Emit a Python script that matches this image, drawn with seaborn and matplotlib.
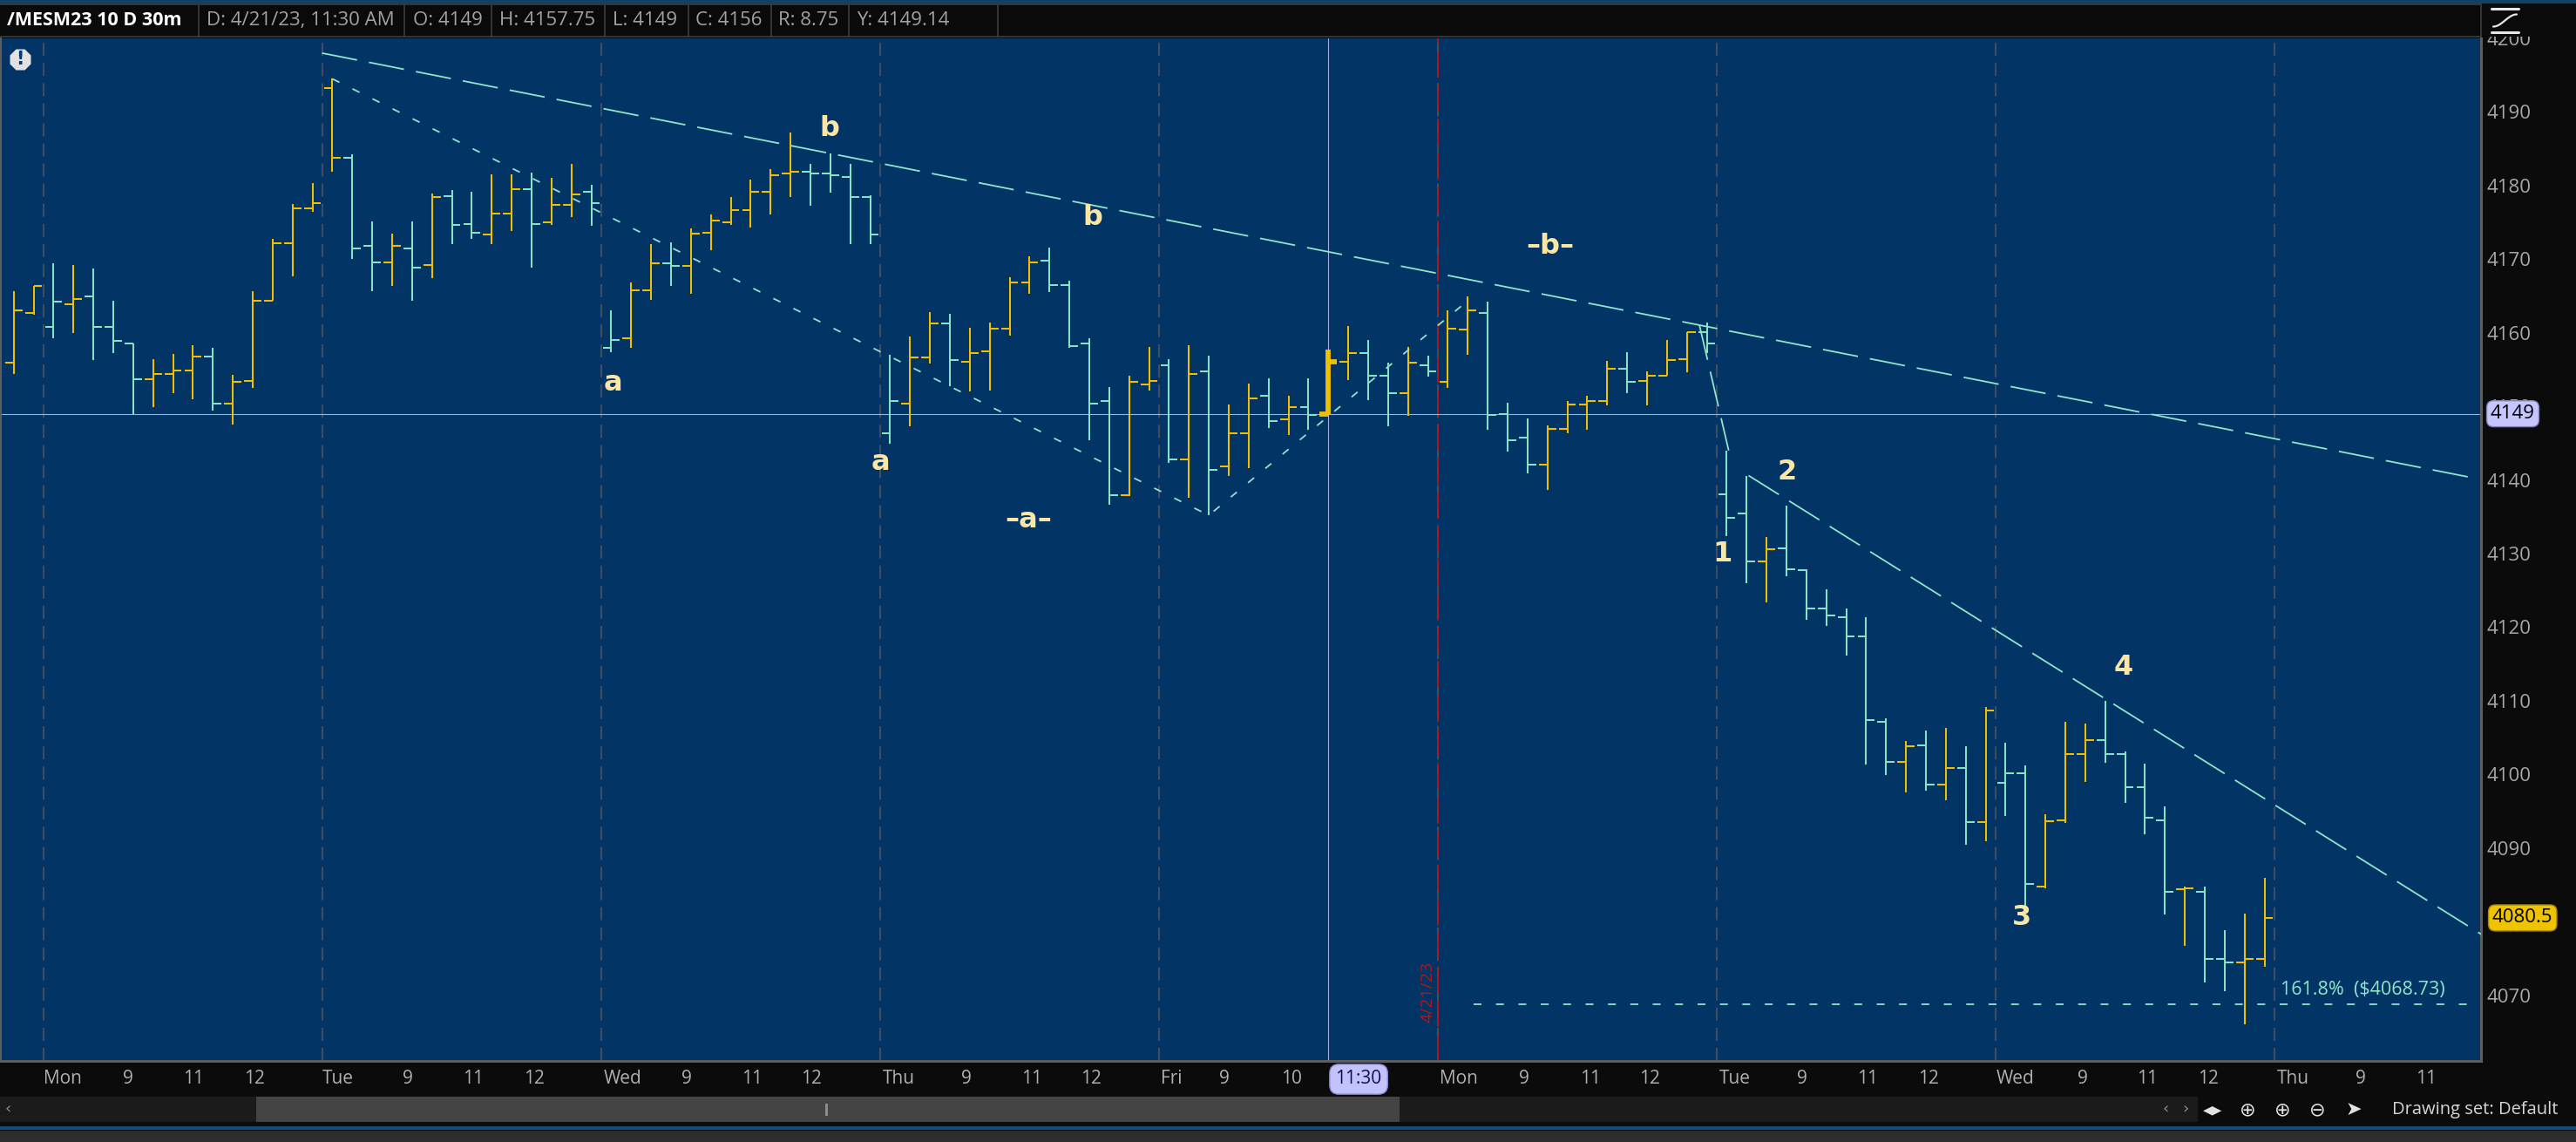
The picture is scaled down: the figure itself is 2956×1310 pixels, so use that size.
import numpy as np
import pandas as pd
import matplotlib
matplotlib.use("Agg")
import matplotlib.pyplot as plt
import matplotlib.transforms as mtransforms
from matplotlib.lines import Line2D
from matplotlib.patches import Rectangle
import seaborn as sns

# ---------------- data (30m bars, /MESM23) ----------------
opens = [4155.9, 4162.7, 4160.8, 4163.9, 4164.9, 4160.8, 4158.5, 4153.7, 4154.4, 4154.9,
         4156.8, 4150.4, 4153.5, 4164.4, 4172.2, 4176.9, 4193.3, 4183.8, 4171.8, 4169.6,
         4171.5, 4169.2, 4178.6, 4174.8, 4173.4, 4176.2, 4179.5, 4175.0, 4177.4, 4179.1,
         4158.0, 4159.2, 4165.8, 4169.4, 4169.1, 4173.6, 4175.0, 4176.7, 4179.1, 4181.7,
         4181.9, 4181.7, 4181.2, 4178.4, 4146.4, 4150.4, 4156.6, 4161.3, 4156.1, 4157.5,
         4160.6, 4166.8, 4169.8, 4166.5, 4158.5, 4150.7, 4137.9, 4153.0, 4155.6, 4142.8,
         4154.7, 4141.9, 4146.4, 4151.4, 4148.3, 4149.9, 4149.0, 4156.1, 4157.3, 4154.2,
         4151.8, 4155.6, 4153.3, 4160.4, 4162.7, 4149.0, 4145.7, 4142.1, 4146.9, 4150.2,
         4150.7, 4155.1, 4153.5, 4154.2, 4156.4, 4160.1, 4138.1, 4135.4, 4128.9, 4130.7,
         4127.7, 4122.5, 4121.3, 4118.7, 4107.1, 4101.7, 4104.0, 4098.6, 4100.9, 4093.5,
         4098.8, 4100.2, 4084.8, 4093.8, 4102.8, 4104.7, 4102.8, 4098.3, 4093.8, 4084.4,
         4084.1, 4074.9, 4074.4, 4074.9]
highs = [4165.6, 4166.4, 4169.4, 4169.2, 4168.7, 4164.4, 4158.5, 4156.4, 4157.1, 4158.3,
         4158.0, 4154.3, 4165.6, 4172.7, 4177.5, 4180.3, 4194.5, 4184.3, 4175.1, 4173.5,
         4175.1, 4178.9, 4179.4, 4179.1, 4181.5, 4181.5, 4181.8, 4181.0, 4182.9, 4180.1,
         4163.0, 4166.8, 4172.0, 4172.3, 4174.2, 4176.1, 4178.4, 4180.8, 4182.2, 4187.2,
         4182.9, 4184.4, 4182.9, 4178.7, 4157.0, 4159.5, 4162.8, 4162.6, 4160.7, 4161.4,
         4167.5, 4170.4, 4171.6, 4167.1, 4159.3, 4152.6, 4154.2, 4158.1, 4156.4, 4158.3,
         4156.9, 4150.3, 4153.1, 4153.8, 4151.4, 4153.8, 4157.75, 4160.9, 4159.0, 4155.9,
         4158.1, 4156.9, 4163.0, 4164.9, 4164.2, 4150.5, 4148.4, 4147.4, 4150.7, 4151.4,
         4156.2, 4157.4, 4154.8, 4159.0, 4160.1, 4161.4, 4144.0, 4140.6, 4132.3, 4136.5,
         4127.9, 4125.2, 4122.5, 4121.4, 4107.6, 4104.5, 4106.0, 4106.3, 4103.8, 4109.1,
         4104.3, 4101.2, 4094.6, 4107.2, 4106.9, 4110.0, 4103.1, 4101.5, 4095.6, 4084.8,
         4084.8, 4078.8, 4081.1, 4085.9]
lows = [4154.4, 4162.4, 4159.3, 4160.0, 4156.3, 4157.2, 4148.9, 4149.9, 4151.8, 4151.0,
        4149.4, 4147.5, 4152.5, 4164.4, 4167.7, 4176.4, 4181.9, 4170.0, 4165.7, 4166.4,
        4164.3, 4167.4, 4172.1, 4172.8, 4172.1, 4173.8, 4168.8, 4174.7, 4175.7, 4174.5,
        4157.4, 4157.9, 4164.5, 4166.4, 4165.3, 4171.2, 4174.7, 4174.3, 4176.1, 4178.5,
        4177.3, 4179.0, 4172.1, 4172.1, 4144.9, 4147.3, 4155.8, 4152.7, 4152.0, 4152.2,
        4159.6, 4165.3, 4165.5, 4158.0, 4145.4, 4136.6, 4137.8, 4152.2, 4142.3, 4137.6,
        4135.2, 4140.6, 4141.6, 4147.0, 4146.1, 4146.8, 4149.0, 4153.6, 4150.8, 4147.3,
        4148.7, 4154.1, 4152.5, 4157.0, 4146.8, 4143.9, 4140.9, 4138.7, 4146.3, 4146.8,
        4150.1, 4151.8, 4150.1, 4154.2, 4154.6, 4157.3, 4132.4, 4126.0, 4123.4, 4126.9,
        4121.0, 4120.2, 4116.2, 4101.3, 4099.9, 4097.6, 4097.8, 4096.5, 4090.5, 4090.9,
        4094.3, 4081.6, 4084.5, 4093.4, 4099.0, 4101.6, 4096.1, 4091.9, 4081.0, 4076.7,
        4071.7, 4070.5, 4066.0, 4073.9]
closes = [4163.0, 4166.4, 4164.2, 4164.6, 4160.8, 4158.9, 4153.7, 4154.4, 4154.9, 4156.8,
          4150.4, 4153.3, 4164.4, 4172.2, 4176.9, 4177.6, 4183.8, 4171.5, 4169.6, 4171.8,
          4168.9, 4178.4, 4174.6, 4173.6, 4176.2, 4179.5, 4174.8, 4177.4, 4178.8, 4177.6,
          4159.0, 4165.8, 4169.4, 4169.1, 4173.5, 4175.3, 4176.7, 4179.1, 4181.4, 4181.9,
          4181.7, 4181.4, 4178.4, 4173.4, 4150.7, 4156.6, 4161.3, 4156.3, 4157.3, 4160.6,
          4166.8, 4169.6, 4166.5, 4158.2, 4150.4, 4137.9, 4153.3, 4153.5, 4142.8, 4154.4,
          4141.4, 4146.4, 4151.1, 4148.0, 4149.9, 4148.8, 4156.0, 4157.3, 4154.2, 4151.8,
          4155.9, 4154.7, 4160.6, 4163.0, 4148.8, 4145.4, 4142.1, 4146.9, 4150.2, 4150.7,
          4155.1, 4153.3, 4154.2, 4156.3, 4160.1, 4158.5, 4134.8, 4128.9, 4130.6, 4127.9,
          4122.5, 4121.6, 4118.7, 4107.4, 4101.7, 4103.8, 4098.6, 4100.9, 4093.5, 4108.7,
          4100.2, 4085.1, 4093.6, 4102.8, 4104.7, 4102.8, 4098.3, 4094.1, 4084.1, 4084.5,
          4074.9, 4074.4, 4074.9, 4080.5]

# first bar of each session (bar index)
session_first_bar = [2, 16, 30, 44, 58, 72, 86, 100, 114]
red_session = 72          # session marked with red separator (4/21/23 label)
red_session_label = "4/21/23"

# time axis labels
tick_pos = [2.45, 5.75, 9.05, 12.1, 16.3, 19.77, 23.07, 26.12, 30.57, 33.79, 37.09, 40.06,
            44.43, 47.81, 51.11, 54.08, 58.12, 60.76, 64.14, 72.55, 75.85, 79.14, 82.12,
            86.41, 89.79, 93.09, 96.14, 100.51, 103.89, 107.11, 110.16, 114.45, 117.83, 121.13]
tick_labels = ["Mon", "9", "11", "12", "Tue", "9", "11", "12", "Wed", "9", "11", "12",
               "Thu", "9", "11", "12", "Fri", "9", "10", "Mon", "9", "11", "12",
               "Tue", "9", "11", "12", "Wed", "9", "11", "12", "Thu", "9", "11"]
price_ticks = list(range(4070, 4201, 10))

# crosshair
cross_bar = 66
cross_price = 4149
cross_time = "11:30"

# drawings
upper_x = [15.48, 123.26]
upper_y = [4198.0, 4140.4]
abc_x = [16.0, 60.0, 73.2]
abc_y = [4194.5, 4135.2, 4164.8]
down_x = [87.1, 123.9]
down_y = [4140.6, 4078.25]
link_x = [84.63, 86.1]
link_y = [4161.05, 4144.0]
fib_price = 4068.73
fib_start = 73.3
fib_text = "161.8%  ($4068.73)"
fib_text_x = 113.8

wave_labels = ["a", "b", "a", "b", "\u2013a\u2013", "\u2013b\u2013", "1", "2", "3", "4"]
wave_x = [30.07, 40.96, 43.5, 54.15, 50.94, 77.15, 85.8, 89.04, 100.8, 105.9]
wave_y = [4153.2, 4187.8, 4142.4, 4175.7, 4134.6, 4171.7, 4130.0, 4141.1, 4080.6, 4114.6]

header_title = "/MESM23 10 D 30m"
header_items = ["D: 4/21/23, 11:30 AM", "O: 4149", "H: 4157.75", "L: 4149",
                "C: 4156", "R: 8.75", "Y: 4149.14"]

# ---------------- style ----------------
W, H = 2956, 1310
sns.set_style("dark")
plt.rcParams['font.family'] = ['Open Sans', 'DejaVu Sans']
plt.rcParams['lines.scale_dashes'] = False

BG = '#023466'
GOLD = '#f0bf00'
TEAL = '#86e3c3'
LINE = '#8fe6c8'
CREAM = '#fbe6a6'
GRID = '#56565f'

fig = plt.figure(figsize=(W / 100, H / 100), dpi=100, facecolor='#0b0b0b')
ax = fig.add_axes([0, (H - 1217) / H, 2847 / W, (1217 - 44) / H])
ax.set_facecolor(BG)


def fx(px):
    return px / W


def fy(py):
    return 1 - py / H


x = np.arange(len(opens))
o = np.array(opens); h = np.array(highs); l = np.array(lows); c = np.array(closes)
up = np.concatenate([[True], c[1:] >= c[:-1]])
cols = np.where(up, GOLD, TEAL)
lw = np.where(x == cross_bar, 4.2, 1.45)
tick_w = 0.43

# session separators
for s in session_first_bar:
    ax.axvline(s - 0.5, color=GRID, lw=1.1, ls=(0, (10.8, 5.8)), zorder=1)
ax.axvline(red_session - 0.5, color='#b3161a', lw=1.3, ls=(0, (22, 6)), zorder=1.1)
ax.text(red_session - 0.62, 4070.4, red_session_label, rotation=90, color='#b3161a',
        fontsize=14, ha='right', va='center', zorder=1.2)

# crosshair
ax.axvline(cross_bar, color='#a9acdc', lw=0.8, zorder=1.5)
ax.axhline(cross_price, color='#a9acdc', lw=0.8, zorder=1.5)

# OHLC bars
ax.vlines(x, l, h, colors=cols, linewidths=lw, capstyle='butt', zorder=3)
ax.hlines(o, x - tick_w, x, colors=cols, linewidths=lw, capstyle='butt', zorder=3)
ax.hlines(c, x, x + tick_w, colors=cols, linewidths=lw, capstyle='butt', zorder=3)

# trend lines via seaborn
lines_df = pd.concat([
    pd.DataFrame({'x': upper_x, 'y': upper_y, 'name': 'upper'}),
    pd.DataFrame({'x': abc_x, 'y': abc_y, 'name': 'abc'}),
    pd.DataFrame({'x': down_x, 'y': down_y, 'name': 'down'}),
    pd.DataFrame({'x': link_x, 'y': link_y, 'name': 'link'}),
    pd.DataFrame({'x': [fib_start, 124.5], 'y': [fib_price, fib_price], 'name': 'fib'}),
])
styles = {'upper': (0, (29.5, 10)), 'abc': (0, (6.5, 12)), 'down': (0, (29.5, 10)),
          'link': (0, (29.5, 10)), 'fib': (0, (6.5, 12))}
for name, sub in lines_df.groupby('name', sort=False):
    sns.lineplot(data=sub, x='x', y='y', ax=ax, color=LINE, lw=1.3, estimator=None,
                 sort=False, legend=False, zorder=4)
    ax.lines[-1].set_linestyle(styles[name])

ax.text(fib_text_x, fib_price + 0.75, fib_text, color=LINE, fontsize=15.5,
        ha='left', va='bottom', zorder=5)

# wave labels
for t, xx, yy in zip(wave_labels, wave_x, wave_y):
    ax.text(xx, yy, t, color=CREAM, fontsize=23, fontweight='bold',
            family='DejaVu Sans', ha='center', va='center', zorder=6)

# warning icon
ax.add_line(Line2D([0.0081], [0.9795], marker='8', markersize=19, mfc='#e2e2e2',
                   mec='none', ls='none', transform=ax.transAxes, clip_on=False, zorder=6))
ax.text(0.0081, 0.9795, "!", transform=ax.transAxes, ha='center', va='center',
        fontsize=15, fontweight='bold', color='#033a70', family='DejaVu Sans', zorder=7)

# axes
ax.set_xlim(-0.687, 123.87)
ax.set_ylim(4061.07, 4199.94)
ax.yaxis.tick_right()
ax.set_yticks(price_ticks)
# the tick under the last-price box is hidden by that box in the reference
ax.set_yticklabels(['' if abs(v - closes[-1]) < 2 else str(v) for v in price_ticks])
ax.set_xticks(tick_pos)
ax.set_xticklabels(tick_labels)
ax.tick_params(axis='y', length=0, pad=4.5, labelsize=16, labelcolor='#a8a8a8')
ax.tick_params(axis='x', length=0, pad=7, labelsize=15, labelcolor='#b0b0b0')
ax.set_xlabel(''); ax.set_ylabel('')
ax.grid(False)
ax.spines['top'].set_visible(False)
for side in ['left', 'right', 'bottom']:
    ax.spines[side].set_visible(True)
    ax.spines[side].set_color('#5e5e5e')
    ax.spines[side].set_linewidth(2.2)

# price boxes on the right scale
ytrans = mtransforms.blended_transform_factory(ax.transAxes, ax.transData)
ax.text(2858 / 2847, cross_price, str(cross_price), transform=ytrans, ha='left', va='center',
        fontsize=16, color='#000000', clip_on=False, zorder=10,
        bbox=dict(boxstyle='round,pad=0.2,rounding_size=0.35', fc='#c6c6ff', ec='#7f7fc0', lw=1))
ax.text(2860 / 2847, closes[-1], f"{closes[-1]:.1f}", transform=ytrans, ha='left',
        va='center', fontsize=16, color='#000000', clip_on=False, zorder=10,
        bbox=dict(boxstyle='round,pad=0.2,rounding_size=0.35', fc='#eec300', ec='#a98800', lw=1))

# time box at crosshair
xtrans = mtransforms.blended_transform_factory(ax.transData, ax.transAxes)
ax.text(cross_bar + 0.36, -0.0179, cross_time, transform=xtrans, ha='left', va='center',
        fontsize=15, color='#11114a', clip_on=False, zorder=10,
        bbox=dict(boxstyle='round,pad=0.32,rounding_size=0.5', fc='#c2c2ff', ec='#8a8ad0', lw=1))

# ---------------- window chrome ----------------
def rect(x0, y0, x1, y1, fc, z=5, ec='none', lw=0):
    fig.patches.append(Rectangle((fx(x0), fy(y1)), fx(x1) - fx(x0), fy(y0) - fy(y1),
                                 transform=fig.transFigure, fc=fc, ec=ec, lw=lw, zorder=z))


# header
rect(0, 0, W, 42, '#0a0a0a', z=5)
rect(0, 0, W, 4, '#0f4264', z=5.1)
fig.add_artist(Line2D([0, fx(2847)], [fy(4.5), fy(4.5)], color='#3d3d3d', lw=1.2, zorder=6))
fig.add_artist(Line2D([0, fx(2847)], [fy(42), fy(42)], color='#3d3d3d', lw=1.2, zorder=6))
for sx in [228, 464, 564, 694, 790, 885, 974, 1145, 2847]:
    fig.add_artist(Line2D([fx(sx), fx(sx)], [fy(5), fy(42)], color='#3d3d3d', lw=1.2, zorder=6))
fig.text(fx(8), fy(23.5), header_title, color='white', fontsize=15.5, fontweight='bold',
         ha='left', va='center', zorder=7)
for xx, t in zip([237, 474, 573, 703, 798, 893, 983], header_items):
    fig.text(fx(xx), fy(23.5), t, color='#a2a2a2', fontsize=16, ha='left', va='center', zorder=7)

# scale icon (top right)
fig.add_artist(Line2D([fx(2859), fx(2890)], [fy(10), fy(10)], color='#e6e6e6', lw=2.2, zorder=7))
fig.add_artist(Line2D([fx(2859), fx(2890)], [fy(37), fy(37)], color='#e6e6e6', lw=2.2, zorder=7))
tt = np.linspace(0, 1, 40)
fig.add_artist(Line2D(fx(2861 + 27 * tt), fy(23.5 + 7 * np.cos(np.pi * tt)), color='#e6e6e6',
                      lw=1.6, zorder=7))

# scrollbar / bottom bar
rect(0, 1258, 2522, 1287, '#1b1b1b', z=5)
rect(294, 1258, 1606, 1287, '#444444', z=5.1)
rect(947, 1266, 950, 1280, '#8c8c8c', z=5.2)
fig.text(fx(6), fy(1272), "\u2039", color='#8c8c8c', fontsize=13, ha='left', va='center',
         family='DejaVu Sans', zorder=7)
fig.text(fx(2482), fy(1272), "\u2039", color='#8c8c8c', fontsize=13, ha='left', va='center',
         family='DejaVu Sans', zorder=7)
fig.text(fx(2504), fy(1272), "\u203a", color='#8c8c8c', fontsize=13, ha='left', va='center',
         family='DejaVu Sans', zorder=7)
for xx, g in zip([2528, 2570, 2610, 2650, 2692], ["\u25c2\u25b8", "\u2295", "\u2295", "\u2296", "\u27a4"]):
    fig.text(fx(xx), fy(1273), g, color='#e2e2e2', fontsize=16, ha='left', va='center',
             family='DejaVu Sans', zorder=7)
fig.text(fx(2745), fy(1273), "Drawing set: Default", color='#d6d6d6', fontsize=14.5,
         ha='left', va='center', zorder=7)
rect(0, 1292, W, 1296, '#0e4d7c', z=5)
rect(0, 1297, W, H, '#2d2d2d', z=5)

fig.savefig("out.png", dpi=100, facecolor=fig.get_facecolor())
